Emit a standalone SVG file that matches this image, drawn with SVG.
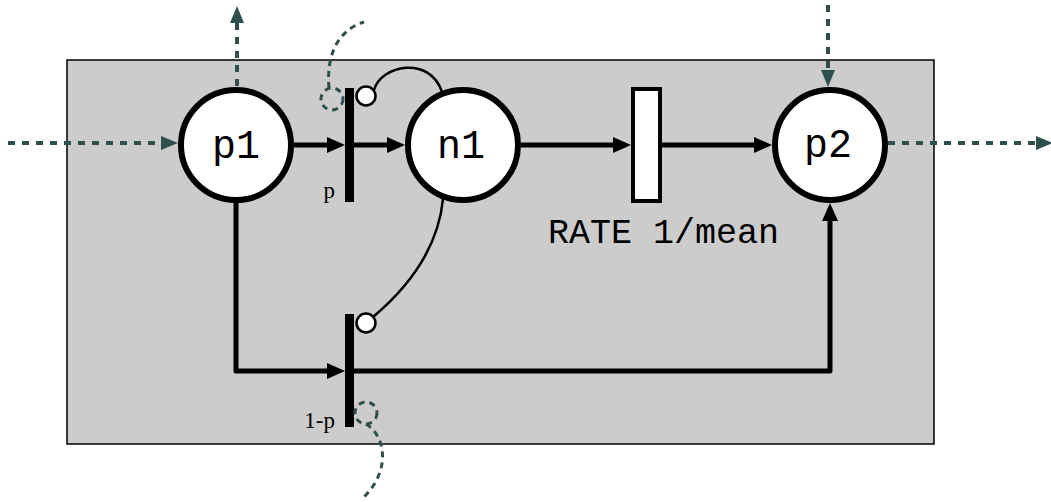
<svg xmlns="http://www.w3.org/2000/svg" width="1051" height="502" viewBox="0 0 1051 502">
<style>
.place{fill:#ffffff;stroke:#000;stroke-width:6}
.lbl{font-family:"Liberation Mono","Courier New",monospace;font-size:40px;fill:#000}
.rate{font-family:"Liberation Mono","Courier New",monospace;font-size:35px;fill:#000}
.prob{font-family:"Liberation Serif","Times New Roman",serif;font-size:23px;fill:#000}
.arc{fill:none;stroke:#000;stroke-width:5;stroke-linejoin:round}
.inh{fill:none;stroke:#000;stroke-width:2.5}
.inhc{fill:#fff;stroke:#000;stroke-width:2.5}
.dash{fill:none;stroke:#2f4f4f;stroke-width:4;stroke-dasharray:7 7}
.dthin{fill:none;stroke:#2f4f4f;stroke-width:3;stroke-dasharray:6 5}
</style>
<defs>
<marker id="ah" markerUnits="userSpaceOnUse" markerWidth="18" markerHeight="16" viewBox="0 -8 18 16" refX="0" refY="0" orient="auto" overflow="visible">
<path d="M0,-8 L18,0 L0,8 z" fill="#000"/>
</marker>
<marker id="dh" markerUnits="userSpaceOnUse" markerWidth="17" markerHeight="14" viewBox="0 -7 17 14" refX="0" refY="0" orient="auto" overflow="visible">
<path d="M0,-7 L17,0 L0,7 z" fill="#2f4f4f"/>
</marker>
</defs>
<rect id="subnet" x="67" y="60" width="867" height="384" fill="#cccccc" stroke="#000" stroke-width="1.5"/>
<g id="connectors">
<path class="arc" d="M294,145 H327" marker-end="url(#ah)"/>
<path class="arc" d="M354,145 H387" marker-end="url(#ah)"/>
<path class="arc" d="M521,145 H613" marker-end="url(#ah)"/>
<path class="arc" d="M662,145 H754" marker-end="url(#ah)"/>
<path class="arc" d="M236,203 V371 H327" marker-end="url(#ah)"/>
<path class="arc" d="M354,371 H830 V221" marker-end="url(#ah)"/>
<path class="inh" d="M374,90 C381,65 430,55 442,92"/>
<path class="inh" d="M373,317 C405,290 438,250 443,199"/>
<path class="dash" d="M8,143 H161" marker-end="url(#dh)"/>
<path class="dash" d="M237,86 V23" marker-end="url(#dh)"/>
<path class="dash" d="M828,5 V70" marker-end="url(#dh)"/>
<path class="dash" d="M888,143 H1036" marker-end="url(#dh)"/>
<path class="dthin" d="M329,88 C326,55 338,30 364,22"/>
<path class="dthin" d="M366,424 C385,435 392,470 363,498"/>
</g>
<g id="p1"><circle class="place" cx="236" cy="145" r="55"/><text class="lbl" x="236" y="158" text-anchor="middle">p1</text></g>
<g id="n1"><circle class="place" cx="463" cy="145" r="55"/><text class="lbl" x="461" y="158" text-anchor="middle">n1</text></g>
<g id="p2"><circle class="place" cx="830" cy="145" r="55"/><text class="lbl" x="828" y="157" text-anchor="middle">p2</text></g>
<g id="t_p"><rect x="345" y="88" width="9" height="114" fill="#000"/><circle class="inhc" cx="366" cy="96" r="9.5"/><circle class="dthin" cx="332" cy="99" r="11"/><text class="prob" x="335" y="198" text-anchor="end">p</text></g>
<g id="t_1mp"><rect x="345" y="314" width="9" height="113" fill="#000"/><circle class="inhc" cx="366" cy="323" r="9.5"/><circle class="dthin" cx="366" cy="413" r="11"/><text class="prob" x="335" y="428" text-anchor="end">1-p</text></g>
<g id="t_rate"><rect x="633" y="89" width="27" height="112" fill="#fff" stroke="#000" stroke-width="4"/><text class="rate" x="548" y="243">RATE 1/mean</text></g>
</svg>
